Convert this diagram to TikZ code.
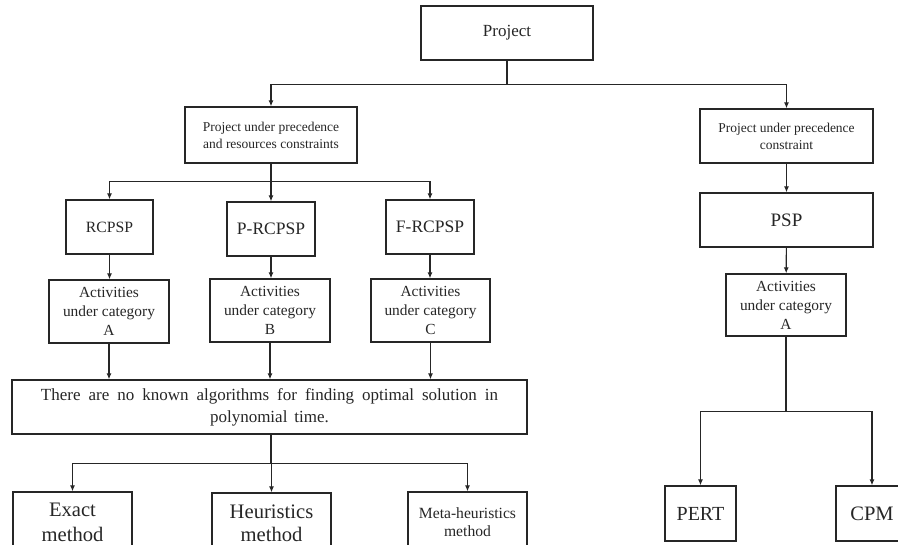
\documentclass[tikz,border=0pt]{standalone}
\usepackage{fontspec}
\setmainfont{Liberation Serif}
\usetikzlibrary{arrows.meta}
\tikzset{
  box/.style={draw=black!85, line width=1.3pt, inner sep=0pt, align=center, text=black!85},
  arr/.style={draw=black!85, line width=1.1pt, -{Latex[length=6pt,width=5pt]}},
  ln/.style={draw=black!85, line width=1.1pt}
}
\newcommand{\fs}[2]{\fontsize{#1}{#2}\selectfont}
\begin{document}
\begin{tikzpicture}[x=1pt,y=-1pt]
\useasboundingbox (0,0) rectangle (898,545);
\clip (0,0) rectangle (898,545);
% top
\node[box, minimum width=172pt, minimum height=54pt, font=\fs{17}{20}] (proj) at (507,33) {Project};
\node[box, minimum width=172pt, minimum height=56pt, font=\fs{13.5}{17}] (prc) at (271,135) {Project under precedence\\and resources constraints};
\node[box, minimum width=173pt, minimum height=54pt, font=\fs{13.5}{17}] (pc) at (786.5,136) {Project under precedence\\constraint};
% left branch
\node[box, minimum width=87pt, minimum height=54pt, font=\fs{15.7}{18}] (rcpsp) at (109.5,227) {RCPSP};
\node[box, minimum width=88pt, minimum height=54pt, font=\fs{17.5}{20}] (prcpsp) at (271,229) {P-RCPSP};
\node[box, minimum width=88pt, minimum height=54pt, font=\fs{17.5}{20}] (frcpsp) at (430,227) {F-RCPSP};
\node[box, minimum width=120pt, minimum height=63pt, font=\fs{15.4}{19}] (actA) at (109,311.5) {Activities\\under category\\A};
\node[box, minimum width=120pt, minimum height=63pt, font=\fs{15.4}{19}] (actB) at (270,310.5) {Activities\\under category\\B};
\node[box, minimum width=119pt, minimum height=63pt, font=\fs{15.4}{19}] (actC) at (430.5,310.5) {Activities\\under category\\C};
\node[box, minimum width=515pt, minimum height=54pt, font=\fs{17}{22}] (big) at (269.5,407) {\makebox[457pt][s]{There are no known algorithms for finding optimal solution in}\\polynomial\hspace{7pt}time.};
\node[box, minimum width=119pt, minimum height=60pt, font=\fs{20.6}{25}] (exact) at (72.5,522) {Exact\\method};
\node[box, minimum width=119pt, minimum height=60pt, font=\fs{20.6}{23}] (heur) at (271.5,523) {Heuristics\\method};
\node[box, minimum width=119pt, minimum height=60pt, font=\fs{15.6}{18}] (meta) at (467.5,522) {Meta-heuristics\\method};
% right branch
\node[box, minimum width=173pt, minimum height=54pt, font=\fs{19}{22}] (psp) at (786.5,220) {PSP};
\node[box, minimum width=120pt, minimum height=62pt, font=\fs{15.4}{19}] (actR) at (786,305) {Activities\\under category\\A};
\node[box, minimum width=71pt, minimum height=55pt, font=\fs{20}{23}] (pert) at (700.5,513.5) {PERT};
\node[box, minimum width=72pt, minimum height=55pt, font=\fs{20.5}{23}] (cpm) at (872,513.5) {CPM};
% connectors
\draw[arr] (proj.south) -- ++(0,24) -| (prc.north);
\draw[arr] (proj.south) -- ++(0,24) -| (pc.north);
\draw[arr] (prc.south) -- ++(0,18) -| (rcpsp.north);
\draw[arr] (prc.south) -- ++(0,18) -| (prcpsp.north);
\draw[arr] (prc.south) -- ++(0,18) -| (frcpsp.north);
\draw[arr] (rcpsp) -- (actA.north -| rcpsp.south);
\draw[arr] (prcpsp) -- (actB.north -| prcpsp.south);
\draw[arr] (frcpsp) -- (actC.north -| frcpsp.south);
\draw[arr] (actA) -- (big.north -| actA.south);
\draw[arr] (actB) -- (big.north -| actB.south);
\draw[arr] (actC) -- (big.north -| actC.south);
\draw[arr] (big.south -| prcpsp.south) -- ++(0,29) -| (exact.north);
\draw[arr] (big.south -| prcpsp.south) -- ++(0,29) -| (heur.north);
\draw[arr] (big.south -| prcpsp.south) -- ++(0,29) -| (meta.north);
\draw[arr] (pc) -- (psp);
\draw[arr] (psp) -- (actR);
\draw[arr] (actR.south) -- ++(0,75) -| (pert.north);
\draw[arr] (actR.south) -- ++(0,75) -| (cpm.north);
\end{tikzpicture}
\end{document}
